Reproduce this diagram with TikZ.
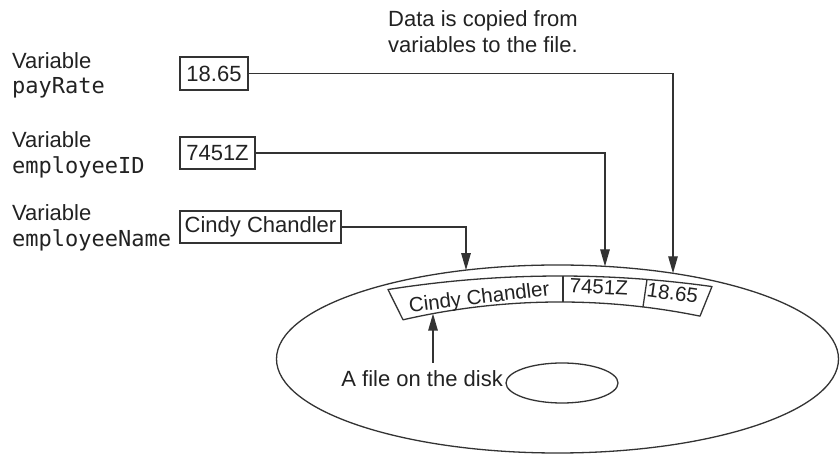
\documentclass[tikz,border=0pt]{standalone}
\usepackage{fontspec}
\setmainfont{Liberation Sans}
\newfontfamily\monof{DejaVu Sans Mono}
\usetikzlibrary{arrows.meta,calc}
\definecolor{txt}{HTML}{222222}
\definecolor{ln}{HTML}{333333}
\tikzset{
  lbl/.style={inner sep=0pt, text=txt, font=\fontsize{22}{26}\selectfont},
  mono/.style={inner sep=0pt, text=txt, font=\fontsize{22}{26}\selectfont\monof},
  varbox/.style={draw=ln, line width=1.2pt, inner sep=0pt, text=txt, font=\fontsize{22}{26}\selectfont},
  striptext/.style={inner sep=0pt, text=txt, font=\fontsize{20.5}{24}\selectfont},
  arr/.style={draw=ln, line width=1.3pt, -{Triangle[length=17pt,width=9.5pt]}},
  shapeline/.style={draw=ln, line width=1.3pt}
}
\begin{document}
\begin{tikzpicture}[x=1pt,y=1pt]
\useasboundingbox (0,0) rectangle (840,457);
\fill[white] (0,0) rectangle (840,457);

% top caption
\node[lbl, anchor=base west] (cap1) at (388,430) {Data is copied from};
\node[lbl, anchor=base west] (cap2) at (388,404) {variables to the file.};

% variable labels
\node[lbl, anchor=base west] (v1a) at (12,388) {Variable};
\node[mono, anchor=base west] (v1b) at (12,363) {payRate};
\node[lbl, anchor=base west] (v2a) at (12,309) {Variable};
\node[mono, anchor=base west] (v2b) at (12,283) {employeeID};
\node[lbl, anchor=base west] (v3a) at (12,236) {Variable};
\node[mono, anchor=base west] (v3b) at (12,210) {employeeName};

% variable boxes
\node[varbox, minimum width=68pt, minimum height=33pt] (b1) at (214,383.5) {18.65};
\node[varbox, minimum width=75pt, minimum height=32pt] (b2) at (217.5,304) {7451Z};
\node[varbox, minimum width=161pt, minimum height=32pt] (b3) at (260.5,230) {Cindy Chandler};

% disk
\draw[shapeline] (557.5,98) ellipse [x radius=281, y radius=94];
\draw[shapeline] (562,74) ellipse [x radius=56, y radius=20];

% file strip on the disk
\coordinate (TL) at (388,167.47);
\coordinate (BR) at (700,140.86);
\draw[shapeline, line join=round] (TL) arc[start angle=98.996, end angle=82.058, radius=1100]
  -- (BR) arc[start angle=78.463, end angle=102.961, radius=700] -- cycle;
\coordinate (d1t) at (563,181.0);
\coordinate (d1b) at (563,155.0);
\coordinate (d2t) at (647,177.55);
\coordinate (d2b) at (643,150.06);
\draw[shapeline] (d1t) -- (d1b);
\draw[shapeline] (d2t) -- (d2b);

\node[striptext, anchor=base, rotate=7] (f1) at (480,153) {Cindy Chandler};
\node[striptext, anchor=base, rotate=-3] (f2) at (598.5,163) {7451Z};
\node[striptext, anchor=base, rotate=-8] (f3) at (671.5,157) {18.65};

% arrow targets on the disk rim
\coordinate (t1) at (466,186.9);
\coordinate (t2) at (605,190.65);
\coordinate (t3) at (673,183.7);
\draw[arr] (b1.east) -| (t3);
\draw[arr] (b2.east) -| (t2);
\draw[arr] (b3.east) -| (t1);

% file label
\node[lbl, anchor=base east] (flbl) at (503,70) {A file on the disk};
\coordinate (fs) at (433,94);
\coordinate (fe) at (433,143.38);
\draw[arr] (fs) -- (fe);
\end{tikzpicture}
\end{document}
